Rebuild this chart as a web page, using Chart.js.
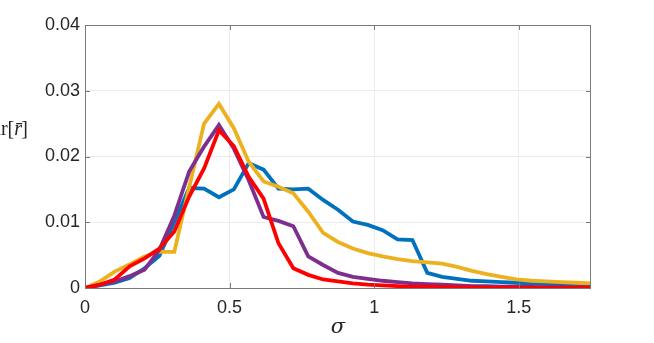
<!DOCTYPE html>
<html>
<head>
<meta charset="utf-8">
<script src="https://cdn.jsdelivr.net/npm/chart.js@4"></script>
<style>
  html, body { margin: 0; padding: 0; background: #fff; }
  #wrap { width: 654px; height: 343px; }
</style>
</head>
<body>
<div id="wrap"><canvas id="myChart" width="654" height="343"></canvas></div>
<script>
// sigma grid: 35 samples from 0 to 1.75
const sigma = [0, 0.0515, 0.1029, 0.1544, 0.2059, 0.2574, 0.3088, 0.3603, 0.4118, 0.4632,
  0.5147, 0.5662, 0.6176, 0.6691, 0.7206, 0.7721, 0.8235, 0.875, 0.9265, 0.9779,
  1.0294, 1.0809, 1.1324, 1.1838, 1.2353, 1.2868, 1.3382, 1.3897, 1.4412, 1.4926,
  1.5441, 1.5956, 1.6471, 1.6985, 1.75]

const blueVals = [0, 0.0004, 0.0008, 0.0015, 0.0030, 0.0049, 0.0100, 0.0152, 0.0151, 0.0138,
  0.0150, 0.0190, 0.0180, 0.0151, 0.0150, 0.0151, 0.0134, 0.0119, 0.0101, 0.0096,
  0.0088, 0.0074, 0.0073, 0.0023, 0.0017, 0.0014, 0.0011, 0.0010, 0.0009, 0.0008,
  0.0007, 0.0006, 0.0005, 0.0005, 0.0004]

const yellowVals = [0, 0.0010, 0.0025, 0.0036, 0.0048, 0.0055, 0.0055, 0.0153, 0.0250, 0.0280,
  0.0243, 0.0192, 0.0162, 0.0154, 0.0144, 0.0116, 0.0084, 0.0070, 0.0060, 0.0053,
  0.0048, 0.0044, 0.0041, 0.0039, 0.0037, 0.0032, 0.0026, 0.0021, 0.0017, 0.0013,
  0.0011, 0.0010, 0.0009, 0.0008, 0.0007]

const purpleVals = [0, 0.0005, 0.0010, 0.0018, 0.0028, 0.0058, 0.0110, 0.0177, 0.0215, 0.0248,
  0.0212, 0.0164, 0.0108, 0.0102, 0.0094, 0.0048, 0.0035, 0.0023, 0.0017, 0.0014,
  0.0011, 0.0009, 0.0007, 0.0006, 0.0005, 0.0004, 0.0003, 0.0003, 0.0002, 0.0002,
  0.00015, 0.0001, 0.0001, 0.0001, 0.0001]

const redVals = [0, 0.0005, 0.0013, 0.0033, 0.0045, 0.0060, 0.0086, 0.0139, 0.0182, 0.0240,
  0.0216, 0.0169, 0.0136, 0.0068, 0.0030, 0.0020, 0.0013, 0.0010, 0.0007, 0.0005,
  0.0004, 0.0003, 0.0002, 0.0002, 0.00015, 0.0001, 0.0001, 0.00005, 0.00005, 0.00005,
  0.00005, 0.00005, 0.00005, 0.00005, 0.00005]

const xTicks = [0, 0.5, 1, 1.5]
const yTicks = [0, 0.01, 0.02, 0.03, 0.04]

const toPoints = vals => vals.map((v, i) => ({ x: sigma[i], y: v }))

const tickFont = { family: 'Liberation Sans, Arial, sans-serif', size: 18 }
const textColor = '#262626'

// axes box, inward ticks and the two axis titles (MATLAB look)
const frame = {
  id: 'frame',
  afterDraw(chart) {
    const ctx = chart.ctx
    const a = chart.chartArea
    const xs = chart.scales.x
    const ys = chart.scales.y
    ctx.save()
    ctx.strokeStyle = '#7a7a7a'
    ctx.lineWidth = 1
    ctx.strokeRect(a.left + 0.5, a.top + 0.5, a.right - a.left - 1, a.bottom - a.top)
    ctx.beginPath()
    xTicks.forEach(t => {
      const px = Math.round(xs.getPixelForValue(t)) + 0.5
      ctx.moveTo(px, a.bottom); ctx.lineTo(px, a.bottom - 5)
      ctx.moveTo(px, a.top); ctx.lineTo(px, a.top + 5)
    })
    yTicks.forEach(t => {
      const py = Math.round(ys.getPixelForValue(t)) + 0.5
      ctx.moveTo(a.left, py); ctx.lineTo(a.left + 5, py)
      ctx.moveTo(a.right, py); ctx.lineTo(a.right - 5, py)
    })
    ctx.stroke()

    ctx.fillStyle = textColor
    ctx.textBaseline = 'middle'
    // x label
    ctx.textAlign = 'center'
    ctx.font = 'italic 21px "DejaVu Serif", "Liberation Serif", serif'
    ctx.fillText('σ', (a.left + a.right) / 2, 328)
    // y label, horizontal and clipped at the left edge
    ctx.textAlign = 'right'
    ctx.font = 'italic 20px "Liberation Serif", serif'
    const rw = ctx.measureText('r̄').width
    ctx.fillText('r̄', 22, 130)
    ctx.font = '20px "Liberation Serif", serif'
    ctx.fillText(']', 28, 130)
    ctx.fillText('Var[', 22 - rw, 130)
    ctx.restore()
  }
}

const ctx = document.getElementById('myChart').getContext('2d')

const lineStyle = { borderWidth: 3.8, pointRadius: 0, tension: 0, fill: false }

new Chart(ctx, {
  type: 'line',
  data: {
    datasets: [
      { label: 'blue', data: toPoints(blueVals), borderColor: '#0072BD', order: 4, ...lineStyle },
      { label: 'yellow', data: toPoints(yellowVals), borderColor: '#EDB120', order: 3, ...lineStyle },
      { label: 'purple', data: toPoints(purpleVals), borderColor: '#7E2F8E', order: 2, ...lineStyle },
      { label: 'red', data: toPoints(redVals), borderColor: '#FF0000', order: 1, ...lineStyle }
    ]
  },
  options: {
    responsive: false,
    animation: false,
    layout: { padding: { top: 25, right: 63, left: 0, bottom: 0 } },
    plugins: { legend: { display: false }, tooltip: { enabled: false } },
    scales: {
      x: {
        type: 'linear',
        min: 0,
        max: 1.75,
        afterFit: s => { s.height = 55 },
        afterBuildTicks: s => { s.ticks = xTicks.map(v => ({ value: v })) },
        grid: { color: '#ebebeb', drawTicks: false },
        border: { display: false },
        ticks: { font: tickFont, color: textColor, padding: 9, maxRotation: 0,
          callback: v => String(v) }
      },
      y: {
        min: 0,
        max: 0.04,
        afterFit: s => { s.width = 85 },
        afterBuildTicks: s => { s.ticks = yTicks.map(v => ({ value: v })) },
        grid: { color: '#ebebeb', drawTicks: false },
        border: { display: false },
        ticks: { font: tickFont, color: textColor, padding: 5,
          callback: v => String(v) }
      }
    }
  },
  plugins: [frame]
})
</script>
</body>
</html>
